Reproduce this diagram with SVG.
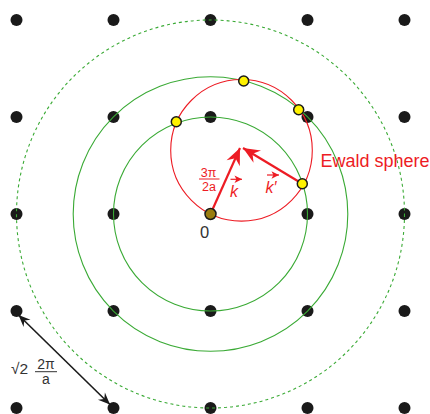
<svg xmlns="http://www.w3.org/2000/svg" width="430" height="414" viewBox="0 0 430 414">
<style>
.dot{fill:#1a1a1a}
.g{fill:none;stroke:#3aaa35;stroke-width:1.1}
.gd{fill:none;stroke:#3aaa35;stroke-width:1.1;stroke-dasharray:3 3}
.red{fill:none;stroke:#ed1c24;stroke-width:1.1}
.ra{stroke:#ed1c24;stroke-width:2.2;fill:none}
.ba{stroke:#1a1a1a;stroke-width:1.6;fill:none}
.y{fill:#fff200;stroke:#1a1a1a;stroke-width:1.5}
.rt{fill:#ed1c24;font-family:"Liberation Sans",Arial,sans-serif}
.bt{fill:#333;font-family:"Liberation Sans",Arial,sans-serif}
</style>
<defs>
<marker id="rh" markerUnits="userSpaceOnUse" markerWidth="20" markerHeight="20" refX="0" refY="0" viewBox="-16 -8 18 16" orient="auto">
<path d="M0,0 L-15,-6.5 L-10,0 L-15,6.5 Z" fill="#ed1c24"/>
</marker>
<marker id="bh" markerUnits="userSpaceOnUse" markerWidth="16" markerHeight="16" refX="0" refY="0" viewBox="-14 -7 16 14" orient="auto-start-reverse">
<path d="M0,0 L-12,-5 L-8,0 L-12,5 Z" fill="#1a1a1a"/>
</marker>
<marker id="sh" markerUnits="userSpaceOnUse" markerWidth="10" markerHeight="10" refX="0" refY="0" viewBox="-7 -4 8 8" orient="auto">
<path d="M0,0 L-6,-3 L-4.5,0 L-6,3 Z" fill="#ed1c24"/>
</marker>
</defs>

<g id="lattice">
<circle class="dot" cx="16.5" cy="20" r="6"/><circle class="dot" cx="113.5" cy="20" r="6"/><circle class="dot" cx="210.5" cy="20" r="6"/><circle class="dot" cx="307.5" cy="20" r="6"/><circle class="dot" cx="404.5" cy="20" r="6"/>
<circle class="dot" cx="16.5" cy="117" r="6"/><circle class="dot" cx="113.5" cy="117" r="6"/><circle class="dot" cx="210.5" cy="117" r="6"/><circle class="dot" cx="307.5" cy="117" r="6"/><circle class="dot" cx="404.5" cy="117" r="6"/>
<circle class="dot" cx="16.5" cy="214" r="6"/><circle class="dot" cx="113.5" cy="214" r="6"/><circle class="dot" cx="307.5" cy="214" r="6"/><circle class="dot" cx="404.5" cy="214" r="6"/>
<circle class="dot" cx="16.5" cy="311" r="6"/><circle class="dot" cx="113.5" cy="311" r="6"/><circle class="dot" cx="210.5" cy="311" r="6"/><circle class="dot" cx="307.5" cy="311" r="6"/><circle class="dot" cx="404.5" cy="311" r="6"/>
<circle class="dot" cx="16.5" cy="408" r="6"/><circle class="dot" cx="113.5" cy="408" r="6"/><circle class="dot" cx="210.5" cy="408" r="6"/><circle class="dot" cx="307.5" cy="408" r="6"/><circle class="dot" cx="404.5" cy="408" r="6"/>
</g>

<g id="shells">
<circle class="g" cx="210.5" cy="214" r="97"/>
<circle class="g" cx="210.5" cy="214" r="137.3"/>
<circle class="gd" cx="210.5" cy="214" r="194"/>
</g>

<g id="ewald">
<circle class="red" cx="241.5" cy="150.3" r="70.8"/>
</g>

<g id="connectors">
<line class="ra" x1="210.5" y1="214" x2="240" y2="148" marker-end="url(#rh)"/>
<line class="ra" x1="302.3" y1="183.7" x2="243" y2="148" marker-end="url(#rh)"/>
<line class="ba" x1="18.5" y1="315" x2="110" y2="404.5" marker-start="url(#bh)" marker-end="url(#bh)"/>
</g>

<g id="intersections">
<circle class="y" cx="243.7" cy="81" r="5"/>
<circle class="y" cx="298.7" cy="109.7" r="5"/>
<circle class="y" cx="176.3" cy="121.7" r="5"/>
<circle class="y" cx="302.3" cy="183.7" r="5"/>
</g>

<g id="origin">
<circle cx="210.5" cy="214" r="5.5" fill="#9a7d10" stroke="#1a1a1a" stroke-width="1.5"/>
<text class="bt" x="204.5" y="238.3" font-size="16.5" text-anchor="middle">0</text>
</g>

<g id="labels">
<text class="rt" x="208.5" y="176.7" font-size="12.5" text-anchor="middle">3π</text>
<line x1="199" y1="179" x2="219.5" y2="179" stroke="#ed1c24" stroke-width="1"/>
<text class="rt" x="209" y="190.7" font-size="12.5" text-anchor="middle">2a</text>
<text class="rt" x="234" y="196.7" font-size="16" font-style="italic" text-anchor="middle">k</text>
<line x1="230.5" y1="179.3" x2="242" y2="179.3" stroke="#ed1c24" stroke-width="1.2" marker-end="url(#sh)"/>
<text class="rt" x="271" y="193.3" font-size="16" font-style="italic" text-anchor="middle">k′</text>
<line x1="267" y1="175" x2="279" y2="175" stroke="#ed1c24" stroke-width="1.2" marker-end="url(#sh)"/>
<text class="rt" x="320.5" y="167" font-size="17.5" textLength="109" lengthAdjust="spacingAndGlyphs">Ewald sphere</text>
<text class="bt" x="11" y="374.3" font-size="15.5">√2</text>
<text class="bt" x="46" y="368.5" font-size="14" text-anchor="middle">2π</text>
<line x1="35" y1="371.7" x2="57" y2="371.7" stroke="#333" stroke-width="1"/>
<text class="bt" x="46" y="384.3" font-size="14" text-anchor="middle">a</text>
</g>
</svg>
